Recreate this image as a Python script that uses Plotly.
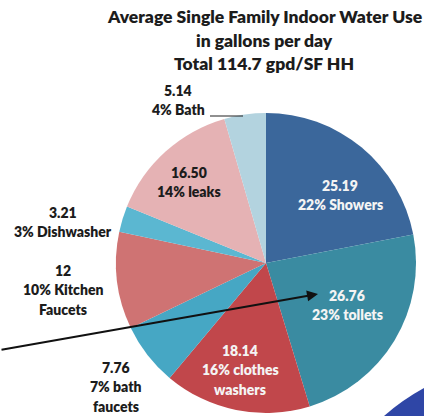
import plotly.graph_objects as go

# Average single-family indoor water use, gallons per day (total 114.7 gpd)
categories = ["Showers", "tollets", "clothes washers", "bath faucets",
              "Kitchen Faucets", "Dishwasher", "leaks", "Bath"]
gallons = [25.19, 26.76, 18.14, 7.76, 12, 3.21, 16.50, 5.14]
value_text = ["25.19", "26.76", "18.14", "7.76", "12", "3.21", "16.50", "5.14"]
label_lines = [
    ["22% Showers"],
    ["23% tollets"],
    ["16% clothes", "washers"],
    ["7% bath", "faucets"],
    ["10% Kitchen", "Faucets"],
    ["3% Dishwasher"],
    ["14% leaks"],
    ["4% Bath"],
]
title_lines = ["Average Single Family Indoor Water Use",
               "in gallons per day",
               "Total 114.7 gpd/SF HH"]

colors = ["#3b679b", "#3a8ba1", "#c1474b", "#46a7c4",
          "#cf7373", "#5bb7d1", "#e5b2b4", "#b3d3df"]

W, H = 424, 416


def px(x):
    return x / W


def py(y):
    return 1 - y / H


# pie centre and radius in pixels
cx, cy, r = 266, 263, 150

fig = go.Figure(go.Pie(
    labels=categories,
    values=gallons,
    sort=False,
    direction="clockwise",
    rotation=0,
    marker=dict(colors=colors, line=dict(width=0)),
    textinfo="none",
    hoverinfo="label+value+percent",
    domain=dict(x=[px(cx - r), px(cx + r)], y=[py(cy + r), py(cy - r)]),
    showlegend=False,
))

font_family = "Lato, 'Open Sans', sans-serif"
annotations = []

# title, one annotation per line
for text, y in zip(title_lines, [17, 40, 63]):
    annotations.append(dict(
        x=px(264), y=py(y), xref="paper", yref="paper",
        text=text, showarrow=False,
        xanchor="center", yanchor="middle",
        font=dict(family=font_family, size=17.5, color="#1c1c1c", weight=800),
    ))

# label placement: centre x, y of first line, text colour
label_pos = [
    (340, 185, "#f4f4f4"),
    (347, 295, "#f4f4f4"),
    (240, 350, "#f4f4f4"),
    (116, 367, "#1c1c1c"),
    (63, 270, "#1c1c1c"),
    (63, 212, "#1c1c1c"),
    (189, 172, "#1c1c1c"),
    (178, 90, "#1c1c1c"),
]
line_gap = 19.5
for vt, lines, (x0, y0, col) in zip(value_text, label_lines, label_pos):
    for i, t in enumerate([vt] + lines):
        annotations.append(dict(
            x=px(x0), y=py(y0 + i * line_gap), xref="paper", yref="paper",
            text=t, showarrow=False,
            xanchor="center", yanchor="middle",
            font=dict(family=font_family, size=14, color=col, weight=800),
        ))

# long pointer arrow toward the toilets label
annotations.append(dict(
    x=px(318), y=py(294), xref="paper", yref="paper",
    ax=-318, ay=56, text="", showarrow=True,
    arrowhead=2, arrowsize=1.1, arrowwidth=2, arrowcolor="#111111",
))

shapes = [
    # leader line for the Bath label
    dict(type="line", xref="paper", yref="paper",
         x0=px(210), y0=py(116), x1=px(243), y1=py(116),
         line=dict(color="#222222", width=1.2)),
    # blue corner swoosh
    dict(type="path", xref="paper", yref="paper",
         path=(f"M {px(384)} {py(416)} Q {px(402)} {py(400)} {px(424)} {py(388)} "
               f"L {px(424)} {py(416)} Z"),
         fillcolor="#2f46a6", line=dict(width=0)),
]

fig.update_layout(
    width=W, height=H,
    margin=dict(l=0, r=0, t=0, b=0),
    paper_bgcolor="white",
    plot_bgcolor="white",
    annotations=annotations,
    shapes=shapes,
)

fig.write_html("out.html")
